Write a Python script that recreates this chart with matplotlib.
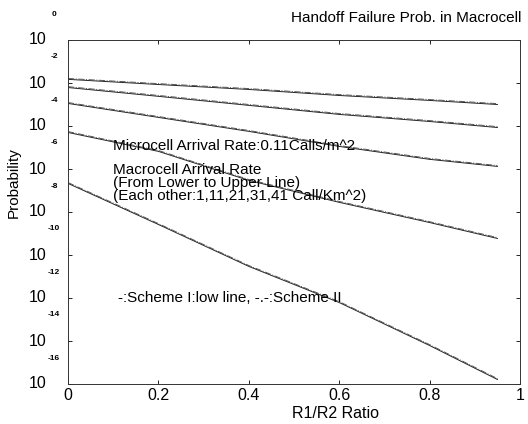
import numpy as np
import matplotlib
matplotlib.use("Agg")
import matplotlib.pyplot as plt
import matplotlib.transforms as mtransforms

plt.rcParams['font.family'] = ['Liberation Sans', 'DejaVu Sans']

# === Data ===
ratio = [0.0, 0.2, 0.4, 0.6, 0.8, 0.95]
macro_rates = [1, 11, 21, 31, 41]   # Call/Km^2, lower to upper line

# log10 of handoff failure probability, Scheme I (low line)
scheme1_log = {
    41: [-1.83, -2.07, -2.30, -2.58, -2.81, -3.00],
    31: [-2.21, -2.62, -3.04, -3.46, -3.79, -4.07],
    21: [-2.95, -3.60, -4.25, -4.95, -5.55, -5.88],
    11: [-4.30, -5.18, -6.53, -7.55, -8.49, -9.23],
    1:  [-6.67, -8.58, -10.53, -12.21, -14.21, -15.79],
}
# Scheme II (upper line)
scheme2_log = {
    41: [-1.79, -2.03, -2.26, -2.54, -2.77, -2.96],
    31: [-2.17, -2.58, -3.00, -3.42, -3.75, -4.03],
    21: [-2.91, -3.56, -4.21, -4.91, -5.51, -5.84],
    11: [-4.26, -5.14, -6.49, -7.51, -8.45, -9.19],
    1:  [-6.63, -8.54, -10.49, -12.17, -14.17, -15.75],
}

x_ticks = [0, 0.2, 0.4, 0.6, 0.8, 1]
x_ticklabels = ["0", "0.2", "0.4", "0.6", "0.8", "1"]
y_exponents = [0, -2, -4, -6, -8, -10, -12, -14, -16]

# === Figure ===
W, H = 528, 424
fig = plt.figure(figsize=(W / 100, H / 100), dpi=100)
ax = fig.add_axes([68 / W, 1 - 384 / H, 452 / W, 344 / H])

for r in macro_rates:
    ax.plot(ratio, 10.0 ** np.array(scheme1_log[r]), color="#222222", lw=0.7, ls="-")
    ax.plot(ratio, 10.0 ** np.array(scheme2_log[r]), color="#555555", lw=0.7, ls="-.")

ax.set_yscale("log")
ax.set_xlim(0, 1)
ax.set_ylim(1e-16, 1e0)
ax.set_xticks(x_ticks)
ax.set_xticklabels(x_ticklabels, fontsize=11.5)
ax.set_yticks([10.0 ** e for e in y_exponents])
ax.set_yticklabels([])
ax.yaxis.set_minor_locator(matplotlib.ticker.NullLocator())
ax.tick_params(direction="in", length=3, width=0.6, top=True, right=True, pad=3)
for s in ax.spines.values():
    s.set_linewidth(0.7)
    s.set_color("#333333")

# y tick labels: "10" at tick, exponent raised above it
trans = mtransforms.blended_transform_factory(fig.transFigure, ax.transData)
exp_trans = mtransforms.offset_copy(trans, fig=fig, x=0, y=26, units="dots")
for e in y_exponents:
    ax.text(38 / W, 10.0 ** e, "10", transform=trans, ha="center", va="center",
            fontsize=11.5, clip_on=False)
    ax.text(54 / W, 10.0 ** e, str(e), transform=exp_trans, ha="center", va="center",
            fontsize=6, fontweight="bold", clip_on=False)

# === Text ===
fig.text(521 / W, 1 - 18 / H, "Handoff Failure Prob. in Macrocell",
         ha="right", va="center", fontsize=11)
fig.text(14 / W, 1 - 183 / H, "Probability", rotation=90,
         ha="center", va="center", fontsize=11)
fig.text(335 / W, 1 - 414 / H, "R1/R2 Ratio", ha="center", va="center", fontsize=11.5)

fig.text(113 / W, 1 - 146 / H, "Microcell Arrival Rate:0.11Calls/m^2",
         ha="left", va="center", fontsize=11)
fig.text(113 / W, 1 - 170 / H, "Macrocell Arrival Rate",
         ha="left", va="center", fontsize=11)
fig.text(113 / W, 1 - 183 / H, "(From Lower to Upper Line)",
         ha="left", va="center", fontsize=11)
fig.text(113 / W, 1 - 196 / H, "(Each other:1,11,21,31,41 Call/Km^2)",
         ha="left", va="center", fontsize=11)
fig.text(118 / W, 1 - 298 / H, "-:Scheme I:low line, -.-:Scheme II",
         ha="left", va="center", fontsize=11)

fig.savefig("out.png", dpi=100)
